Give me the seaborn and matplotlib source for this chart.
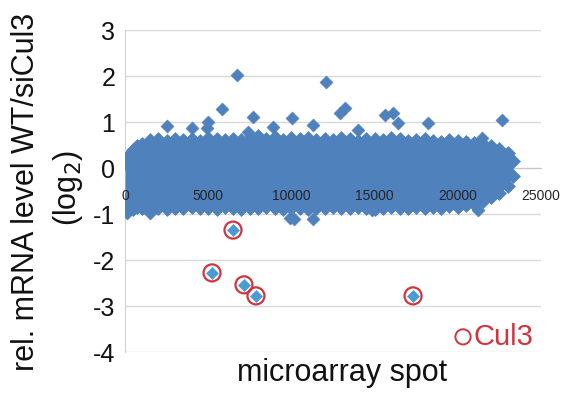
import matplotlib
matplotlib.use("Agg")
import matplotlib.pyplot as plt
import seaborn as sns
import pandas as pd

# ---- data ----
# envelope of the dense cloud of microarray spots (log2 ratio)
spot_x = [0, 250, 500, 750, 1000, 1500, 2000, 2500, 3000, 3500, 4000, 4500,
          5000, 5500, 6000, 6500, 7000, 7500, 8000, 8500, 9000, 9500, 10000,
          10500, 11000, 11500, 12000, 12500, 13000, 13500, 14000, 14500, 15000,
          15500, 16000, 16500, 17000, 17500, 18000, 18500, 19000, 19500, 20000,
          20500, 21000, 21500, 22000, 22500, 23000, 23300]
upper = [0.1, 0.28, 0.4, 0.48, 0.52, 0.6, 0.62, 0.58, 0.64, 0.6, 0.62, 0.58,
         0.66, 0.62, 0.6, 0.64, 0.6, 0.66, 0.7, 0.64, 0.68, 0.6, 0.66,
         0.62, 0.66, 0.6, 0.64, 0.6, 0.66, 0.62, 0.58, 0.62, 0.64,
         0.6, 0.66, 0.62, 0.58, 0.6, 0.64, 0.58, 0.56, 0.6, 0.58,
         0.56, 0.54, 0.52, 0.48, 0.42, 0.32, 0.15]
lower = [-0.7, -0.88, -0.9, -0.85, -0.88, -0.94, -0.86, -0.9, -0.86, -0.88, -0.84, -0.88,
         -0.86, -0.9, -0.84, -0.88, -0.9, -0.86, -0.88, -0.84, -0.88, -0.9, -0.86,
         -0.88, -0.9, -0.86, -0.88, -0.84, -0.88, -0.86, -0.84, -0.88, -0.9,
         -0.86, -0.84, -0.88, -0.86, -0.84, -0.86, -0.84, -0.86, -0.82, -0.84,
         -0.8, -0.78, -0.72, -0.64, -0.55, -0.4, -0.18]

# individual outlying spots
out_x = [6730, 12080, 5830, 7700, 2520, 4010, 4990, 4930, 10040, 11300, 12920,
         13220, 14000, 15620, 16110, 16410, 18210, 22660, 21450, 7390, 8900,
         9920, 10150, 11300, 1500, 100, 14840, 21230]
out_y = [2.02, 1.87, 1.28, 1.11, 0.91, 0.87, 1.0, 0.87, 1.09, 0.93, 1.2,
         1.3, 0.83, 1.15, 1.2, 0.98, 0.97, 1.04, 0.65, 0.78, 0.89,
         -1.09, -1.11, -1.11, -0.98, -0.98, -0.91, -0.91]

# Cul3 spots (circled)
cul3_x = [6490, 5230, 7150, 7870, 17310]
cul3_y = [-1.35, -2.28, -2.54, -2.78, -2.78]

y_ticks = [3, 2, 1, 0, -1, -2, -3, -4]
x_ticks = [0, 5000, 10000, 15000, 20000, 25000]

BLUE = "#4F81BD"
RED = "#D0353F"

sns.set_style("white")
plt.rcParams["font.family"] = ["Liberation Sans", "DejaVu Sans"]

fig = plt.figure(figsize=(5.65, 3.93), dpi=100)
ax = fig.add_axes([125 / 565, 1 - 352 / 393, (541 - 125) / 565, (352 - 30) / 393])

env = pd.DataFrame({"x": spot_x + spot_x, "y": upper + lower})
outl = pd.DataFrame({"x": out_x, "y": out_y})
cul = pd.DataFrame({"x": cul3_x, "y": cul3_y})

ax.fill_between(spot_x, lower, upper, color=BLUE, lw=0, zorder=3)
sns.scatterplot(data=env, x="x", y="y", marker="D", s=50, color=BLUE,
                edgecolor=BLUE, linewidth=0.5, ax=ax, zorder=3)
sns.scatterplot(data=outl, x="x", y="y", marker="D", s=45, color=BLUE,
                edgecolor=BLUE, linewidth=0.3, ax=ax, zorder=3)
sns.scatterplot(data=cul, x="x", y="y", marker="D", s=40, color="#4A9BD2",
                edgecolor="#4A9BD2", linewidth=0.3, ax=ax, zorder=3)
sns.scatterplot(data=cul, x="x", y="y", marker="o", s=150, facecolor="none",
                edgecolor=RED, linewidth=1.6, ax=ax, zorder=4)

ax.set_xlim(0, 25000)
ax.set_ylim(-4, 3)
ax.set_yticks(y_ticks)
ax.set_yticklabels([str(v) for v in y_ticks], fontsize=18, color="#111111")
ax.set_xticks(x_ticks)
ax.set_xticklabels([str(v) for v in x_ticks], fontsize=9.5, color="#1B2A4A")
ax.tick_params(axis="y", length=0, pad=7)
ax.tick_params(axis="x", length=0, pad=15)
ax.set_xlabel("")
ax.set_ylabel("")

ax.grid(axis="y", color="#D9D9D9", lw=1)
ax.grid(axis="x", visible=False)
ax.set_axisbelow(True)
ax.xaxis.set_zorder(5)

for side in ["top", "right"]:
    ax.spines[side].set_visible(False)
ax.spines["left"].set_color("#D0D0D0")
ax.spines["bottom"].set_color("#C8C8C8")
ax.spines["bottom"].set_position(("data", 0))

# legend-like label
ax.scatter([0.8125], [0.047], s=120, facecolor="none", edgecolor=RED, lw=1.4,
           transform=ax.transAxes, zorder=6, clip_on=False)
ax.text(0.838, 0.047, "Cul3", color=RED, fontsize=21, va="center", ha="left",
        transform=ax.transAxes)

fig.text(26 / 565, 1 - 192 / 393, "rel. mRNA level WT/siCul3", rotation=90,
         ha="center", va="center", fontsize=22, color="#111111")
fig.text(68 / 565, 1 - 188 / 393, "(log$_2$)", rotation=90,
         ha="center", va="center", fontsize=22, color="#111111")
fig.text(342 / 565, 1 - 373 / 393, "microarray spot", ha="center", va="center",
         fontsize=22, color="#111111")

fig.savefig("out.png", dpi=100)
